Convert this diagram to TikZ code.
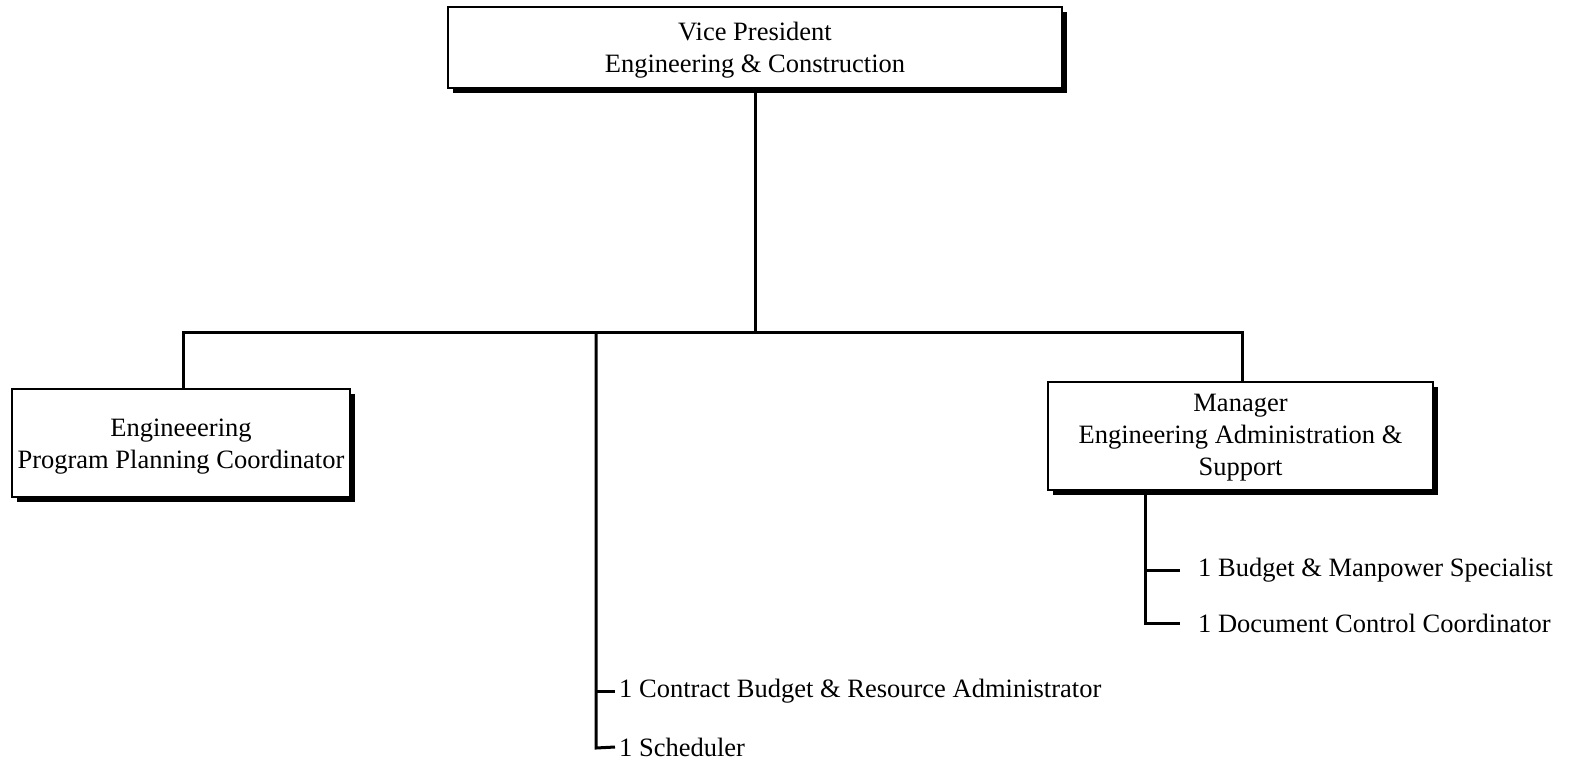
\documentclass[tikz,border=0pt]{standalone}
\usepackage{fontspec}
\setmainfont{Liberation Serif}
\usetikzlibrary{shadows}
\begin{document}
\begin{tikzpicture}[x=1pt,y=-1pt,
  orgbox/.style={draw=black, line width=2.4pt, fill=white, inner sep=0pt,
    drop shadow={shadow xshift=4.5pt, shadow yshift=-4.5pt, fill=black, opacity=1}},
  boxtext/.style={align=center, inner sep=0pt, font=\fontsize{26.5}{32}\selectfont},
  conn/.style={line width=3pt},
  item/.style={anchor=west, inner sep=0pt, font=\fontsize{26.5}{30}\selectfont}]
\useasboundingbox (0,0) rectangle (1573,761);
\node[orgbox, minimum width=614pt, minimum height=81pt] (vp) at (755,47.5) {};
\node[boxtext] (vpt) at ([yshift=-3pt]vp.center) {Vice President\\Engineering \& Construction};
\node[orgbox, minimum width=338pt, minimum height=108pt] (eppc) at (181,443) {};
\node[boxtext] (eppct) at ([yshift=-4pt]eppc.center) {Engineeering\\Program Planning Coordinator};
\node[orgbox, minimum width=385pt, minimum height=108pt] (mgr) at (1240.5,436) {};
\node[boxtext] (mgrt) at ([yshift=-2pt]mgr.center) {Manager\\Engineering Administration \&\\Support};
\node[item] (cbra) at (619,691) {1 Contract Budget \& Resource Administrator};
\node[item] (sch) at (619,747) {1 Scheduler};
\node[item] (bms) at (1198,570) {1 Budget \& Manpower Specialist};
\node[item] (dcc) at (1198,623) {1 Document Control Coordinator};
\coordinate (bus) at (755,332);
\coordinate (busL) at (183,332);
\coordinate (busM) at (596,332);
\coordinate (busR) at (1242,332);
\coordinate (midEnd) at (596,748);
\coordinate (rv) at (1145,495);
\coordinate (rvEnd) at (1145,623);
\draw[conn] (vp.south) -- (bus);
\draw[conn, line cap=rect] (busL) -- (busR);
\draw[conn] (busL) -- (busL |- eppc.north);
\draw[conn] (busR) -- (busR |- mgr.north);
\draw[conn] (busM) -- (midEnd) -- ([xshift=-4pt]sch.west);
\draw[conn] (busM |- cbra.west) -- ([xshift=-4pt]cbra.west);
\draw[conn] (rv) -- (rvEnd) -- ([xshift=-18pt]dcc.west);
\draw[conn] (rv |- bms.west) -- ([xshift=-18pt]bms.west);
\end{tikzpicture}
\end{document}
